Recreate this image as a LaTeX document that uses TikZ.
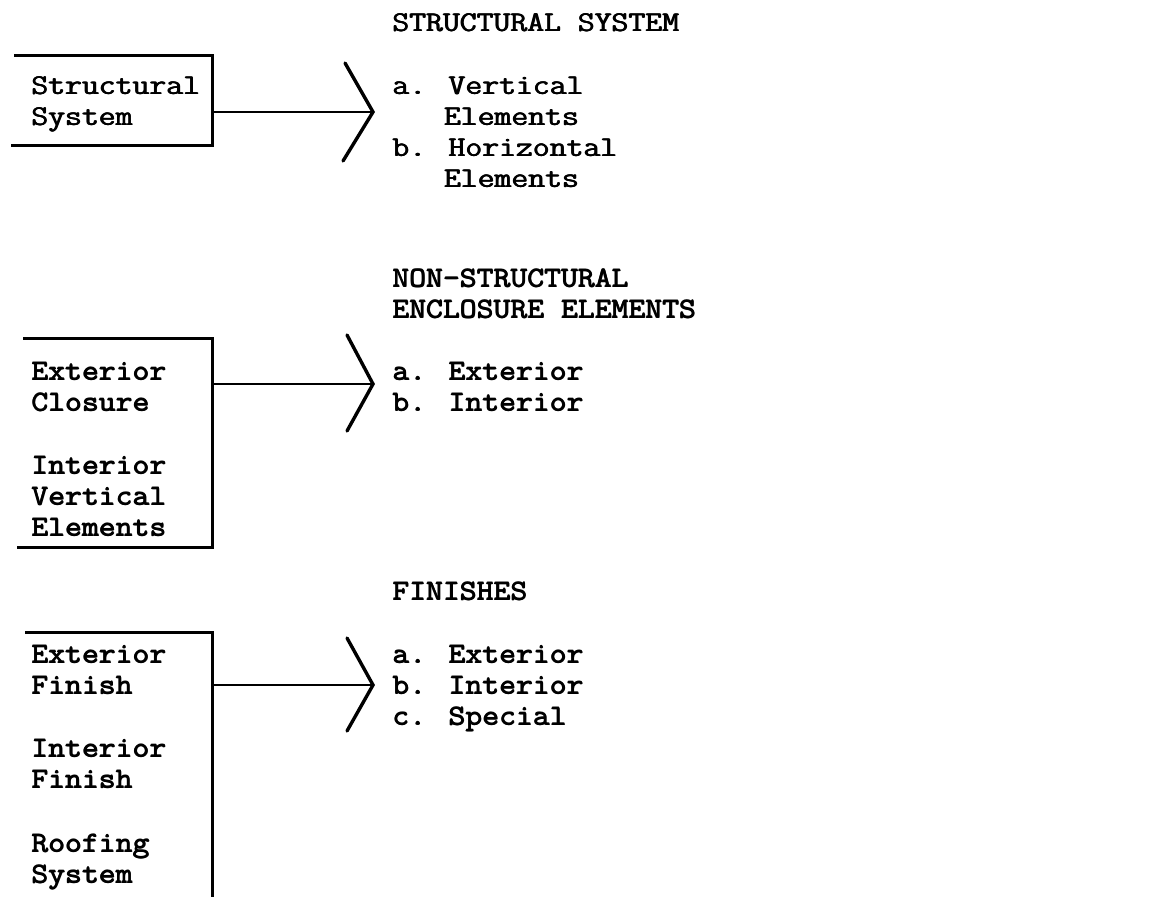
\documentclass[tikz,border=0pt]{standalone}
\usepackage{graphicx}
\newcommand{\fbold}[1]{\rlap{#1}\rlap{\raisebox{0.5pt}{\kern0.4pt#1}}\kern0.8pt#1}
\newcommand{\tw}[1]{\scalebox{1.145}[1]{\fontsize{28.6}{31}\selectfont\ttfamily\fbold{#1}}}
\begin{document}
\begin{tikzpicture}[x=1pt,y=-1pt,
  txt/.style={anchor=base west,inner sep=0pt,outer sep=0pt},
  boxline/.style={line width=3pt,line cap=rect},
  conn/.style={line width=2.6pt},
  chev/.style={line width=3.4pt,line join=miter,line cap=round}]
\useasboundingbox (0,0) rectangle (1150,896);
\fill[white] (0,0) rectangle (1150,896);
% ---------- group 1
\node[txt] (h1) at (392,32) {\tw{STRUCTURAL SYSTEM}};
\node[txt] (l1a) at (31,95) {\tw{Structural}};
\node[txt] (l1b) at (31,126) {\tw{System}};
\node[txt] (r1a) at (392,95) {\tw{a. Vertical}};
\node[txt] (r1b) at (443.6,126) {\tw{Elements}};
\node[txt] (r1c) at (392,157) {\tw{b. Horizontal}};
\node[txt] (r1d) at (443.6,188) {\tw{Elements}};
\coordinate (b1tl) at (15,56);
\coordinate (b1tr) at (212,56);
\coordinate (b1br) at (212,146);
\coordinate (b1bl) at (12,146);
\coordinate (b1o) at (212,112);
\coordinate (a1) at (373,112);
\coordinate (a1u) at (345,63);
\coordinate (a1d) at (343,161);
\draw[boxline] (b1tl) -- (b1tr) -- (b1br) -- (b1bl);
\draw[conn] (b1o) -- (a1);
\draw[chev] (a1u) -- (a1) -- (a1d);
% ---------- group 2
\node[txt] (h2a) at (392,287) {\tw{NON-STRUCTURAL}};
\node[txt] (h2b) at (392,318) {\tw{ENCLOSURE ELEMENTS}};
\node[txt] (l2a) at (31,380) {\tw{Exterior}};
\node[txt] (l2b) at (31,411) {\tw{Closure}};
\node[txt] (l2c) at (31,474) {\tw{Interior}};
\node[txt] (l2d) at (31,505) {\tw{Vertical}};
\node[txt] (l2e) at (31,536) {\tw{Elements}};
\node[txt] (r2a) at (392,380) {\tw{a. Exterior}};
\node[txt] (r2b) at (392,411) {\tw{b. Interior}};
\coordinate (b2tl) at (24,338);
\coordinate (b2tr) at (212,338);
\coordinate (b2br) at (212,547);
\coordinate (b2bl) at (18,547);
\coordinate (b2o) at (212,384);
\coordinate (a2) at (373,384);
\coordinate (a2u) at (347,335);
\coordinate (a2d) at (347,431);
\draw[boxline] (b2tl) -- (b2tr) -- (b2br) -- (b2bl);
\draw[conn] (b2o) -- (a2);
\draw[chev] (a2u) -- (a2) -- (a2d);
% ---------- group 3
\node[txt] (h3) at (392,600) {\tw{FINISHES}};
\node[txt] (l3a) at (31,663) {\tw{Exterior}};
\node[txt] (l3b) at (31,694) {\tw{Finish}};
\node[txt] (l3c) at (31,757) {\tw{Interior}};
\node[txt] (l3d) at (31,788) {\tw{Finish}};
\node[txt] (l3e) at (31,852) {\tw{Roofing}};
\node[txt] (l3f) at (31,883) {\tw{System}};
\node[txt] (r3a) at (392,663) {\tw{a. Exterior}};
\node[txt] (r3b) at (392,694) {\tw{b. Interior}};
\node[txt] (r3c) at (392,725) {\tw{c. Special}};
\coordinate (b3tl) at (26,632);
\coordinate (b3tr) at (212,632);
\coordinate (b3b) at (212,896);
\coordinate (b3o) at (212,685);
\coordinate (a3) at (373,685);
\coordinate (a3u) at (347,638);
\coordinate (a3d) at (347,731);
\draw[boxline] (b3tl) -- (b3tr) -- (b3b);
\draw[conn] (b3o) -- (a3);
\draw[chev] (a3u) -- (a3) -- (a3d);
\end{tikzpicture}
\end{document}
